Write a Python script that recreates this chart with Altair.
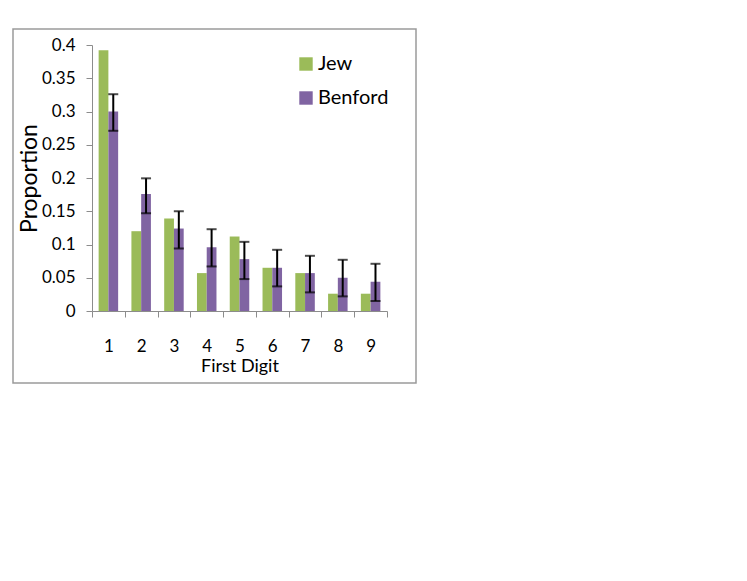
import altair as alt
import pandas as pd

digits = [1, 2, 3, 4, 5, 6, 7, 8, 9]
series_names = ["Jew", "Benford"]
jew = [0.392, 0.120, 0.139, 0.057, 0.112, 0.065, 0.057, 0.026, 0.026]
benford = [0.300, 0.176, 0.124, 0.096, 0.078, 0.065, 0.057, 0.050, 0.044]
benford_upper = [0.326, 0.1995, 0.150, 0.123, 0.104, 0.092, 0.083, 0.077, 0.071]
benford_lower = [0.271, 0.147, 0.094, 0.067, 0.048, 0.037, 0.028, 0.022, 0.015]
y_ticks = [0, 0.05, 0.1, 0.15, 0.2, 0.25, 0.3, 0.35, 0.4]
colors = ["#9BBB59", "#8064A2"]

FONT = "Lato"

rows = []
for d, j, b in zip(digits, jew, benford):
    rows.append({"digit": d, "series": "Jew", "value": j})
    rows.append({"digit": d, "series": "Benford", "value": b})
bars_df = pd.DataFrame(rows)

err_df = pd.DataFrame({
    "digit": digits,
    "series": ["Benford"] * len(digits),
    "upper": benford_upper,
    "lower": benford_lower,
})

x_axis = alt.Axis(
    title="First Digit",
    labelAngle=0,
    tickBand="extent",
    domainColor="#8c8c8c",
    tickColor="#8c8c8c",
    tickSize=6,
    labelPadding=21,
    labelFont=FONT,
    labelFontSize=17,
    labelColor="#000000",
    titleFont=FONT,
    titleFontSize=18,
    titleFontWeight="normal",
    titleColor="#000000",
    titlePadding=3,
)
y_axis = alt.Axis(
    title="Proportion",
    values=y_ticks,
    format=".2~f",
    grid=False,
    labelOverlap=False,
    domainColor="#8c8c8c",
    tickColor="#8c8c8c",
    tickSize=6,
    labelPadding=11,
    labelFont=FONT,
    labelFontSize=17,
    labelColor="#000000",
    titleFont=FONT,
    titleFontSize=23,
    titleFontWeight="normal",
    titleColor="#000000",
    titlePadding=0,
)
x_scale = alt.Scale(paddingInner=0, paddingOuter=0)
xoff_scale = alt.Scale(domain=series_names, paddingOuter=0.68, paddingInner=0)
y_scale = alt.Scale(domain=[0, 0.4], nice=False)

bars = alt.Chart(bars_df).mark_bar().encode(
    x=alt.X("digit:O", scale=x_scale, axis=x_axis),
    xOffset=alt.XOffset("series:N", scale=xoff_scale),
    y=alt.Y("value:Q", scale=y_scale, axis=y_axis),
    color=alt.Color(
        "series:N",
        scale=alt.Scale(domain=series_names, range=colors),
        legend=alt.Legend(
            title=None,
            orient="none",
            legendX=204,
            legendY=9,
            symbolType="square",
            symbolSize=180,
            symbolStrokeWidth=0,
            labelFont=FONT,
            labelFontSize=20,
            labelColor="#000000",
            rowPadding=14,
            padding=0,
            labelOffset=2,
        ),
    ),
)

rule = alt.Chart(err_df).mark_rule(color="#000000", strokeWidth=2).encode(
    x=alt.X("digit:O", scale=x_scale, axis=x_axis),
    xOffset=alt.XOffset("series:N", scale=xoff_scale),
    y=alt.Y("lower:Q", scale=y_scale, axis=y_axis),
    y2="upper:Q",
)
cap_top = alt.Chart(err_df).mark_tick(color="#000000", thickness=2, size=10).encode(
    x=alt.X("digit:O", scale=x_scale, axis=x_axis),
    xOffset=alt.XOffset("series:N", scale=xoff_scale),
    y=alt.Y("upper:Q", scale=y_scale, axis=y_axis),
)
cap_bot = alt.Chart(err_df).mark_tick(color="#000000", thickness=2, size=10).encode(
    x=alt.X("digit:O", scale=x_scale, axis=x_axis),
    xOffset=alt.XOffset("series:N", scale=xoff_scale),
    y=alt.Y("lower:Q", scale=y_scale, axis=y_axis),
)

border = alt.Chart(pd.DataFrame({"a": [0]})).mark_rect(
    filled=False, stroke="#9a9a9a", strokeWidth=1.5, clip=False
).encode(
    x=alt.value(-79), x2=alt.value(324), y=alt.value(-16), y2=alt.value(338)
)

chart = alt.layer(border, bars, rule, cap_top, cap_bot).properties(
    width=295,
    height=266,
    autosize="none",
    padding={"left": 84, "top": 37, "right": 40, "bottom": 80},
    background="#ffffff",
).configure_view(strokeWidth=0)

chart.save("out.html", embed_options={"renderer": "svg", "actions": False})
